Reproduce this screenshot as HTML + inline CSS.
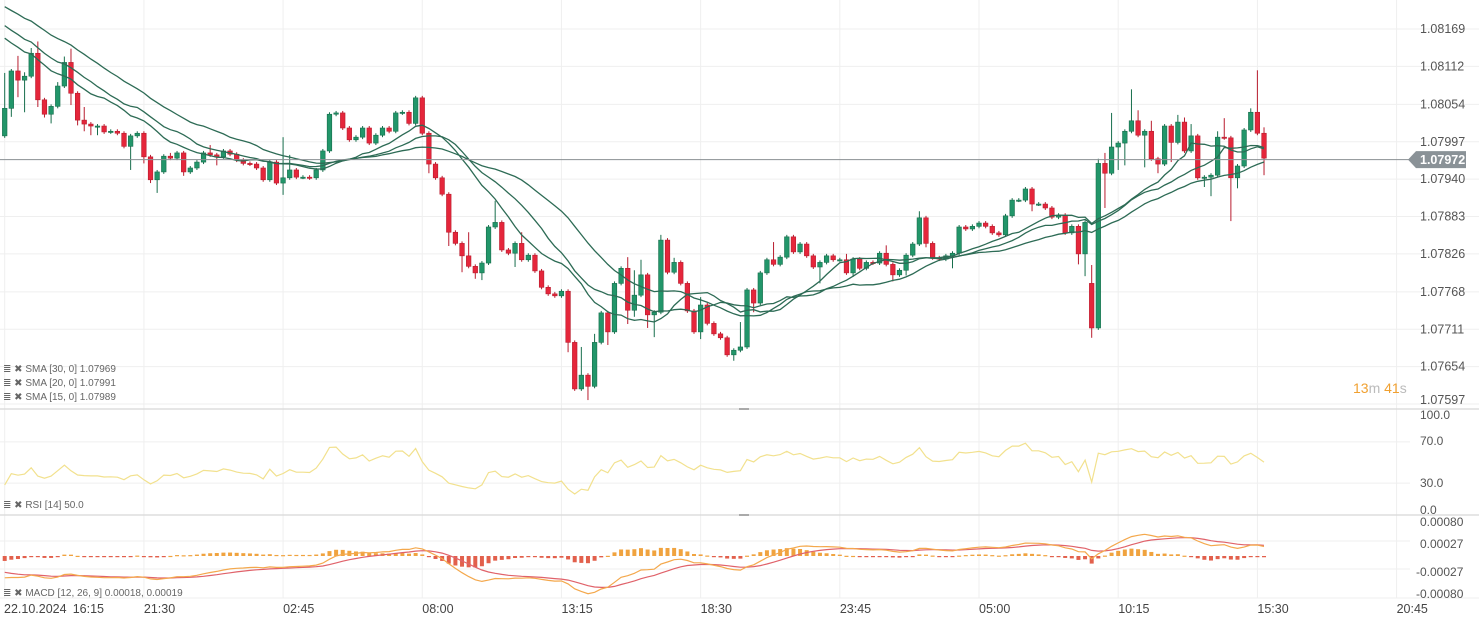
<!DOCTYPE html>
<html><head><meta charset="utf-8"><style>
html,body{margin:0;padding:0;background:#fff;}
svg{display:block;font-family:"Liberation Sans",sans-serif;}
</style></head><body>
<svg id="chart" width="1479" height="622" viewBox="0 0 1479 622" xmlns="http://www.w3.org/2000/svg">
<g id="grid"></g>
<g id="main"></g>
<g id="smas"></g>
<g id="rsi"></g>
<g id="macd"></g>
<g id="axes"></g>
<g font-size="10" fill="#666">
 <text x="3" y="372">≣ ✖ SMA [30, 0] 1.07969</text>
 <text x="3" y="386">≣ ✖ SMA [20, 0] 1.07991</text>
 <text x="3" y="400">≣ ✖ SMA [15, 0] 1.07989</text>
</g>
<text x="3" y="508" font-size="10" fill="#666">≣ ✖ RSI [14] 50.0</text>
<text x="3" y="596" font-size="10" fill="#666">≣ ✖ MACD [12, 26, 9] 0.00018, 0.00019</text>
<text x="1353" y="393" font-size="14"><tspan fill="#f0a030">13</tspan><tspan fill="#bbb">m </tspan><tspan fill="#f0a030">41</tspan><tspan fill="#bbb">s</tspan></text>
</svg>
<script>
const preCloses=[1.08280,1.08262,1.08285,1.08258,1.08275,1.08250,1.08268,1.08240,1.08258,1.08232,1.08250,1.08222,1.08240,1.08215,1.08232,1.08215,1.08190,1.08205,1.08175,1.08192,1.08165,1.08180,1.08150,1.08172,1.08140,1.08160,1.08125,1.08128,1.08080];
const firstOpen=1.08006;
const closes=[1.08048,1.08105,1.08091,1.08097,1.08132,1.08061,1.08039,1.08051,1.08082,1.08118,
1.08071,1.08030,1.08024,1.08021,1.08021,1.08012,1.08013,1.08010,1.07990,1.08006,
1.08010,1.07974,1.07939,1.07951,1.07975,1.07972,1.07980,1.07951,1.07957,1.07966,
1.07980,1.07977,1.07974,1.07983,1.07978,1.07969,1.07964,1.07963,1.07957,1.07939,
1.07966,1.07934,1.07942,1.07954,1.07943,1.07943,1.07942,1.07954,1.07983,1.08039,
1.08041,1.08018,1.08000,1.08004,1.08018,1.07995,1.08007,1.08018,1.08013,1.08041,
1.08042,1.08025,1.08064,1.08010,1.07963,1.07942,1.07917,1.07859,1.07842,1.07823,
1.07807,1.07797,1.07812,1.07867,1.07874,
1.07832,1.07827,1.07842,1.07817,1.07824,1.07800,1.07775,1.07765,1.07762,1.07769,
1.07691,1.07620,1.07641,1.07624,1.07691,1.07736,1.07707,1.07781,1.07804,1.07740,
1.07763,1.07794,1.07733,1.07737,1.07847,1.07798,1.07813,1.07781,1.07739,1.07707,
1.07748,1.07720,1.07704,1.07698,1.07672,1.07679,1.07684,1.07771,1.07751,1.07797,
1.07817,1.07810,1.07821,1.07852,1.07829,1.07841,1.07823,1.07806,1.07813,1.07823,
1.07817,1.07817,1.07797,1.07818,1.07804,1.07813,1.07812,1.07827,1.07810,1.07794,
1.07801,1.07824,1.07841,1.07881,1.07842,1.07820,1.07818,1.07823,1.07827,1.07867,
1.07864,1.07868,1.07873,1.07868,1.07858,1.07855,
1.07884,1.07908,1.07908,1.07925,1.07902,1.07902,1.07896,1.07882,1.07885,1.07858,
1.07868,1.07826,1.07874,1.07713,1.07964,1.07949,1.07989,1.07995,1.08013,1.08029,
1.08007,1.08013,1.07971,1.07963,1.08021,1.07996,1.08027,1.07983,1.08006,1.07942,
1.07943,1.07946,1.08004,1.08003,1.07942,1.07960,1.08015,1.08042,1.08010,1.07972];
const gapOpens={164:1.07781};
const upperWickPips={0:54,2:23,3:6,4:8,5:18,8:6,9:9,10:21,12:20,25:5,31:12,42:62,43:23,70:36,74:33,78:17,87:43,89:13,94:17,95:38,96:23,99:8,101:7,105:12,111:38,116:27,127:9,133:12,138:10,164:28,165:7,166:16,167:52,170:48,171:16,173:16,177:11,178:7,179:18,183:9,184:29,188:6,189:64,190:9};
const lowerWickPips={1:13,2:26,3:49,5:11,6:5,7:14,10:18,11:8,12:11,13:14,14:14,19:36,21:10,22:5,23:20,27:6,32:13,42:18,64:14,67:21,69:25,71:9,72:11,77:21,85:15,88:21,91:20,94:21,95:10,97:20,98:34,105:11,110:9,113:14,123:25,128:6,134:10,136:8,139:6,143:19,155:11,162:16,163:34,164:15,166:53,168:35,169:34,172:49,174:14,176:30,181:14,182:29,185:66,186:16,190:26};
const priceTicks=["1.08169","1.08112","1.08054","1.07997","1.07940","1.07883","1.07826","1.07768","1.07711","1.07654","1.07597"];
const timeTicks=["16:15","21:30","02:45","08:00","13:15","18:30","23:45","05:00","10:15","15:30","20:45"];
const rsiTicks=["100.0","70.0","30.0","0.0"];
const macdTicks=["0.00080","0.00027","-0.00027","-0.00080"];
const lastPrice=1.07972;

const NS="http://www.w3.org/2000/svg";
function mk(tag,attrs,parent){const e=document.createElementNS(NS,tag);for(const k in attrs)e.setAttribute(k,attrs[k]);parent.appendChild(e);return e;}
const xOf=i=>4.7+6.628*i;
const yP=p=>29+(1.08169-p)*65560;
const yR=v=>514-v*1.03;
const yM=v=>556-v*52000;
const G=document.getElementById('grid'),M=document.getElementById('main'),S=document.getElementById('smas'),R=document.getElementById('rsi'),MC=document.getElementById('macd'),A=document.getElementById('axes');

priceTicks.forEach((t,k)=>{const y=yP(parseFloat(t));
 const l=mk('line',{x1:0,x2:1479,y1:y,y2:y,stroke:'#efefef'},G);
 
 const tx=mk('text',{x:1420,y:Math.min(y,400)+4,'font-size':12.5,fill:'#555'},A);tx.textContent=t;
 });
timeTicks.forEach((t,k)=>{const x=xOf(21*k);
 const l=mk('line',{x1:x,x2:x,y1:0,y2:598,stroke:'#efefef'},G);
 
 const tx=mk('text',{x:k===0?x+68:x,y:613,'font-size':12.5,fill:'#444'},A);tx.textContent=t;
 });
const dt=mk('text',{x:4,y:613,'font-size':12.5,fill:'#444'},A);dt.textContent='22.10.2024';

[409,515].forEach(y=>{const l=mk('line',{x1:0,x2:1479,y1:y,y2:y,stroke:'#d8d8d8','stroke-width':1.2},G);
 
 const h=mk('rect',{x:739,y:y-1,width:10,height:2,fill:'#aaa'},G);
 });
const bl=mk('line',{x1:0,x2:1479,y1:598,y2:598,stroke:'#efefef'},G);

[70,30].forEach(v=>{const l=mk('line',{x1:0,x2:1410,y1:yR(v),y2:yR(v),stroke:'#efefef'},G);
 });
[0.00027,-0.00027].forEach(v=>{const l=mk('line',{x1:0,x2:1410,y1:yM(v)-1,y2:yM(v)-1,stroke:'#efefef'},G);
 });
const rsiY=[415,441,483,510];
rsiTicks.forEach((t,k)=>{const tx=mk('text',{x:1420,y:rsiY[k]+4,'font-size':12,fill:'#555'},A);tx.textContent=t;
 });
const macdY=[522,544,572,594];
macdTicks.forEach((t,k)=>{const tx=mk('text',{x:t[0]==='-'?1416:1420,y:macdY[k]+4,'font-size':12,fill:'#555'},A);tx.textContent=t;
 });

const ly=yP(lastPrice)+1.5;
const lpl=mk('line',{x1:0,x2:1410,y1:ly,y2:ly,stroke:'#8a8f93','stroke-width':1},A);

const tag=mk('polygon',{points:`1408,${ly} 1416,${ly-8.5} 1466,${ly-8.5} 1466,${ly+8.5} 1416,${ly+8.5}`,fill:'#8a9297'},A);

const tt=mk('text',{x:1420,y:ly+4.5,'font-size':12.5,'font-weight':'bold',fill:'#fff'},A);tt.textContent=lastPrice.toFixed(5);


closes.forEach((c,i)=>{
 const o=(i in gapOpens)?gapOpens[i]:(i===0?firstOpen:closes[i-1]);
 const up=c>=o;
 const hi=Math.max(o,c)+((i in upperWickPips)?upperWickPips[i]:3)/1e5;
 const lo=Math.min(o,c)-((i in lowerWickPips)?lowerWickPips[i]:3)/1e5;
 const x=xOf(i),col=up?'#22966a':'#e5263b',dark=up?'#176e4c':'#b81c2e';
 const w=mk('line',{x1:x,x2:x,y1:yP(hi),y2:yP(lo),stroke:dark,'stroke-width':1},M);
 
 const yt=yP(Math.max(o,c)),yb=yP(Math.min(o,c));
 const b=mk('rect',{x:x-2.3,y:yt,width:4.6,height:Math.max(1.2,yb-yt),fill:col,stroke:dark,'stroke-width':0.6},M);
 
});

const all=preCloses.concat(closes),off=preCloses.length;
function sma(n){const out=[];for(let i=0;i<closes.length;i++){let s=0;for(let k=0;k<n;k++)s+=all[off+i-k];out.push(s/n);}return out;}
[30,20,15].forEach(n=>{const v=sma(n);
 const p=mk('path',{d:v.map((y,i)=>(i?'L':'M')+xOf(i).toFixed(1)+','+yP(y).toFixed(1)).join(''),fill:'none',stroke:'#2d6b55','stroke-width':1.3},S);
 });

const rsi=[];{let ag=0,al=0;const N=14;
 for(let k=1;k<=N;k++){const d=all[k]-all[k-1];if(d>0)ag+=d;else al-=d;}ag/=N;al/=N;
 for(let j=N+1;j<all.length;j++){const d=all[j]-all[j-1];ag=(ag*(N-1)+Math.max(d,0))/N;al=(al*(N-1)+Math.max(-d,0))/N;
  if(j>=off)rsi.push(al===0?100:100-100/(1+ag/al));}}
const rp=mk('path',{d:rsi.map((v,i)=>(i?'L':'M')+xOf(i).toFixed(1)+','+yR(v).toFixed(1)).join(''),fill:'none',stroke:'#f2e18e','stroke-width':1.2},R);


function ema(arr,n){const k=2/(n+1);const out=[arr[0]];for(let i=1;i<arr.length;i++)out.push(arr[i]*k+out[i-1]*(1-k));return out;}
const e12=ema(all,12),e26=ema(all,26);const macdAll=e12.map((v,i)=>v-e26[i]);const sigAll=ema(macdAll,9);
const macd=macdAll.slice(off),sig=sigAll.slice(off);
macd.forEach((m,i)=>{const h=m-sig[i];const y0=556,y1=556-h*52000*0.9;
 const top=Math.min(y0,y1),ht=Math.max(1.2,Math.abs(y1-y0));
 const r=mk('rect',{x:xOf(i)-2,y:top,width:4,height:ht,fill:h>=0?'#f0a33f':'#e2604c'},MC);
 });
const sp=mk('path',{d:sig.map((v,i)=>(i?'L':'M')+xOf(i).toFixed(1)+','+yM(v).toFixed(1)).join(''),fill:'none',stroke:'#e0626a','stroke-width':1.2},MC);

const mp=mk('path',{d:macd.map((v,i)=>(i?'L':'M')+xOf(i).toFixed(1)+','+yM(v).toFixed(1)).join(''),fill:'none',stroke:'#f4a84c','stroke-width':1.2},MC);

</script>
</body></html>
